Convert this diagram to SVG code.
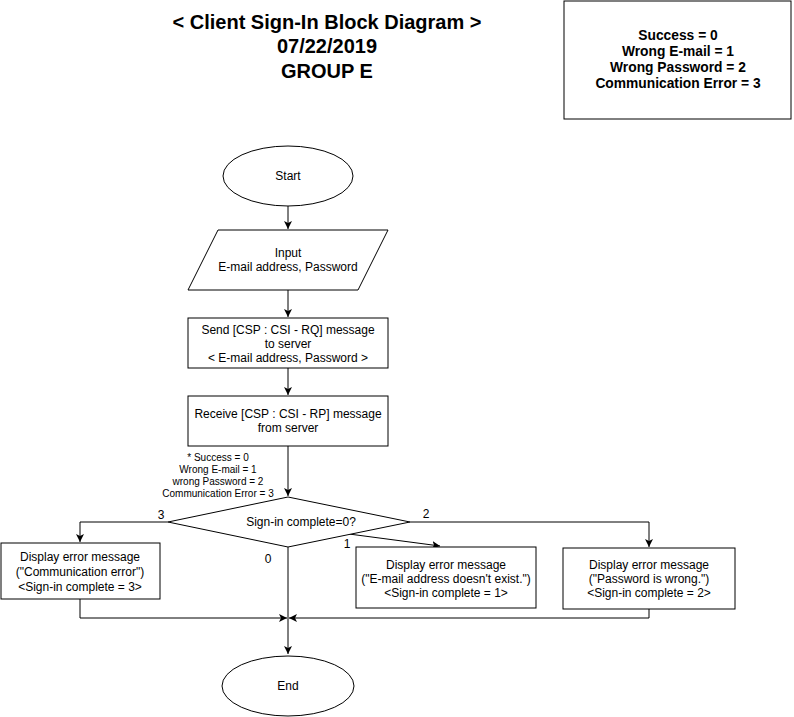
<svg xmlns="http://www.w3.org/2000/svg" width="794" height="717" viewBox="0 0 794 717">
<style>
text{font-family:"Liberation Sans",Arial,sans-serif;font-size:12px;fill:#000;text-anchor:middle}
.t{font-size:20px;font-weight:bold}
.b{font-weight:bold;font-size:13.8px}
.s{font-size:10px}
.n{stroke:#000;stroke-width:1;fill:#fff}
.c{stroke:#000;stroke-width:1;fill:none}
</style>
<defs>
<marker id="a" viewBox="0 0 10 10" refX="10" refY="5" markerWidth="8" markerHeight="8" markerUnits="userSpaceOnUse" orient="auto">
<path d="M0,0 L10,5 L0,10 L2.5,5 z" fill="#000"/>
</marker>
</defs>
<rect width="794" height="717" fill="#fff"/>
<g id="title">
<text class="t" x="327" y="29">&lt; Client Sign-In Block Diagram &gt;</text>
<text class="t" x="327" y="53">07/22/2019</text>
<text class="t" x="327" y="78">GROUP E</text>
</g>
<g id="legend">
<rect class="n" x="564" y="1" width="227" height="118"/>
<text class="b" x="678" y="40">Success = 0</text>
<text class="b" x="678" y="56">Wrong E-mail = 1</text>
<text class="b" x="678" y="72">Wrong Password = 2</text>
<text class="b" x="678" y="88">Communication Error = 3</text>
</g>
<g id="connectors">
<path class="c" d="M288,206 V229" marker-end="url(#a)"/>
<path class="c" d="M288,290 V317" marker-end="url(#a)"/>
<path class="c" d="M288,368 V395" marker-end="url(#a)"/>
<path class="c" d="M288,446 V496" marker-end="url(#a)"/>
<path class="c" d="M168,522 H80 V542" marker-end="url(#a)"/>
<path class="c" d="M410,522 H649 V547" marker-end="url(#a)"/>
<path class="c" d="M349,534 L440,546" marker-end="url(#a)"/>
<path class="c" d="M288,547 V654" marker-end="url(#a)"/>
<path class="c" d="M80,599 V618 H287" marker-end="url(#a)"/>
<path class="c" d="M649,609 V618 H289" marker-end="url(#a)"/>
<text x="161" y="519">3</text>
<text x="426" y="518">2</text>
<text x="347" y="548">1</text>
<text x="268" y="563">0</text>
<text class="s" x="218" y="461">* Success = 0</text>
<text class="s" x="218" y="473">Wrong E-mail = 1</text>
<text class="s" x="218" y="485">wrong Password = 2</text>
<text class="s" x="218" y="497">Communication Error = 3</text>
</g>
<g id="start">
<ellipse class="n" cx="288" cy="176" rx="65" ry="30"/>
<text x="288" y="180">Start</text>
</g>
<g id="input">
<path class="n" d="M218,230 H388 L358,290 H188 Z"/>
<text x="288" y="257">Input</text>
<text x="288" y="271">E-mail address, Password</text>
</g>
<g id="send">
<rect class="n" x="188" y="318" width="200" height="50"/>
<text x="288" y="334">Send [CSP : CSI - RQ] message</text>
<text x="288" y="348">to server</text>
<text x="288" y="362">&lt; E-mail address, Password &gt;</text>
</g>
<g id="receive">
<rect class="n" x="188" y="396" width="200" height="50"/>
<text x="288" y="418">Receive [CSP : CSI - RP] message</text>
<text x="288" y="432">from server</text>
</g>
<g id="decision">
<path class="n" d="M288,497 L410,522 L288,547 L168,522 Z"/>
<text x="301" y="526">Sign-in complete=0?</text>
</g>
<g id="err3">
<rect class="n" x="1" y="543" width="159" height="56"/>
<text x="80" y="561">Display error message</text>
<text x="80" y="576">("Communication error")</text>
<text x="80" y="591">&lt;Sign-in complete = 3&gt;</text>
</g>
<g id="err1">
<rect class="n" x="356" y="547" width="180" height="61"/>
<text x="446" y="569">Display error message</text>
<text x="446" y="583">("E-mail address doesn't exist.")</text>
<text x="446" y="597">&lt;Sign-in complete = 1&gt;</text>
</g>
<g id="err2">
<rect class="n" x="563" y="548" width="172" height="61"/>
<text x="649" y="569">Display error message</text>
<text x="649" y="583">("Password is wrong.")</text>
<text x="649" y="597">&lt;Sign-in complete = 2&gt;</text>
</g>
<g id="end">
<ellipse class="n" cx="288" cy="686" rx="66" ry="30"/>
<text x="288" y="690">End</text>
</g>
</svg>
